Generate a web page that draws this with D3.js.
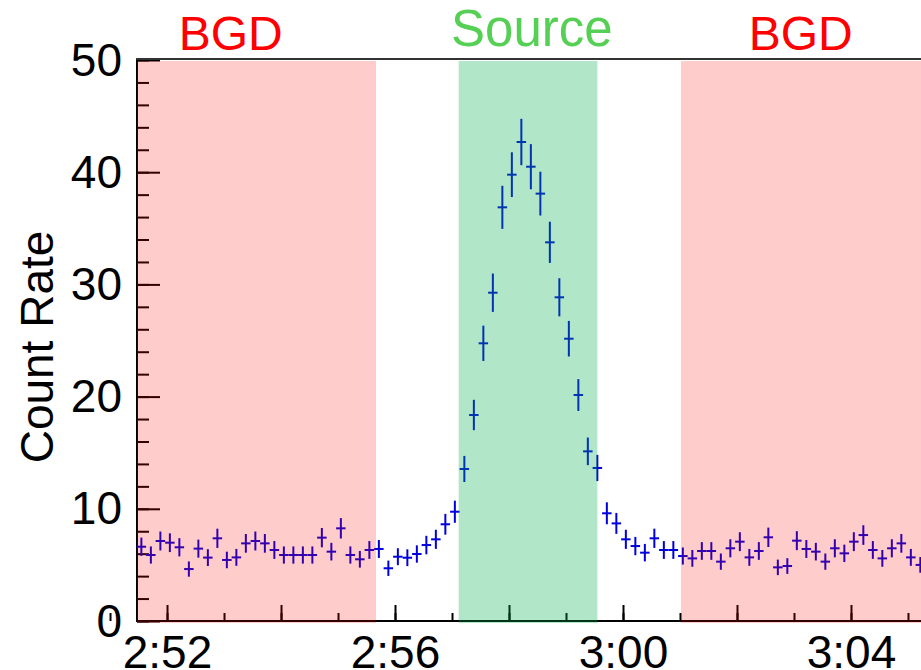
<!DOCTYPE html>
<html>
<head>
<meta charset="utf-8">
<script src="https://cdn.jsdelivr.net/npm/d3@7"></script>
<style>
  body { margin: 0; background: #fff; }
  text { font-family: "Liberation Sans", Arial, Helvetica, sans-serif; }
</style>
</head>
<body>
<svg id="chart" width="921" height="670"></svg>
<script>
// count rate per 10 s bin
const RATES = [
  6.62, 5.88, 7.13, 6.98, 6.57, 4.63, 6.45, 5.65, 7.37, 5.44,
  5.67, 6.92, 7.13, 6.92, 6.33, 5.88, 5.88, 5.88, 5.88, 7.43,
  6.18, 8.26, 5.88, 5.50, 6.33, 6.42, 4.70, 5.73, 5.64, 5.97,
  6.77, 7.28, 8.62, 9.74, 13.55, 18.36, 24.75, 29.26, 36.87, 39.78,
  42.69, 40.49, 38.09, 33.75, 28.85, 25.16, 20.14, 15.12, 13.64, 9.60,
  8.70, 7.28, 6.68, 6.09, 7.37, 6.33, 6.33, 5.79, 5.58, 6.24,
  6.24, 5.29, 6.48, 7.07, 5.67, 6.24, 7.46, 4.78, 4.90, 7.16,
  6.42, 6.18, 5.29, 6.48, 6.03, 7.07, 7.66, 6.33, 5.58, 6.48,
  6.92, 5.67, 5.00
];
const BIN_WIDTH = 10;            // seconds
const FIRST_BIN_START = "2:51:28";
const TIME_RANGE = ["2:51:28.4", "3:05:13.7"];
const Y_RANGE = [0, 50];
const Y_MAJOR = [0, 10, 20, 30, 40, 50];
const X_LABELS = ["2:52", "2:56", "3:00", "3:04"];

const REGIONS = [
  { name: "BGD",    from: "2:51:28.4", to: "2:55:40", label: "2:53:07", fill: "red",     text: "#ff0000" },
  { name: "Source", from: "2:57:07",   to: "2:59:33", label: "2:58:24", fill: "#00ab4b", text: "#55d055" },
  { name: "BGD",    from: "3:01:01",   to: "3:05:13.7", label: "3:03:07", fill: "red",   text: "#ff0000" }
];

const toSec = s => {
  const p = s.split(":").map(Number);
  return p[0] * 3600 + p[1] * 60 + (p[2] || 0);
};
const fmt = t => {
  const h = Math.floor(t / 3600), m = Math.round((t - h * 3600) / 60);
  return h + ":" + String(m).padStart(2, "0");
};

const svg = d3.select("#chart");
const x = d3.scaleLinear().domain(TIME_RANGE.map(toSec)).range([137, 921]);
const y = d3.scaleLinear().domain(Y_RANGE).range([621, 60]);

const t0 = toSec(FIRST_BIN_START);
const points = RATES.map((v, i) => ({
  t: t0 + BIN_WIDTH * (i + 0.5),
  v: v,
  err: Math.sqrt(v / BIN_WIDTH)     // Poisson error on a 10 s bin
}));

// ---- axes ----
const axisG = svg.append("g");

// y: major + minor ticks pointing inward
axisG.append("g")
  .attr("transform", "translate(137,0)")
  .call(d3.axisLeft(y).tickValues(d3.range(0, 50.1, 2)).tickSize(-12).tickFormat(""))
  .call(g => g.select(".domain").remove());
axisG.append("g")
  .attr("class", "y-major")
  .attr("transform", "translate(137,0)")
  .call(d3.axisLeft(y).tickValues(Y_MAJOR).tickSize(-23).tickPadding(15 - 23 + 23))
  .call(g => g.select(".domain").remove());

// x: 1-min and 2-min ticks, labels every 4 min
const xStart = toSec("2:52");
axisG.append("g")
  .attr("transform", "translate(0,621)")
  .call(d3.axisBottom(x).tickValues(d3.range(xStart - 60, x.domain()[1], 60)).tickSize(-8).tickFormat(""))
  .call(g => g.select(".domain").remove());
axisG.append("g")
  .attr("transform", "translate(0,621)")
  .call(d3.axisBottom(x).tickValues(d3.range(xStart, x.domain()[1], 120)).tickSize(-16).tickFormat(""))
  .call(g => g.select(".domain").remove());
axisG.append("g")
  .attr("class", "x-labels")
  .attr("transform", "translate(0,621)")
  .call(d3.axisBottom(x).tickValues(X_LABELS.map(toSec)).tickSize(0).tickFormat(fmt))
  .call(g => g.select(".domain").remove());

axisG.selectAll(".tick line").attr("stroke", "#000").attr("stroke-width", 2);
axisG.selectAll(".y-major text")
  .attr("font-size", 46).attr("fill", "#000")
  .attr("x", -15).attr("dy", "0.33em");
axisG.selectAll(".x-labels text")
  .attr("font-size", 46).attr("fill", "#000")
  .attr("y", 47).attr("dy", 0);

// frame lines
axisG.append("line").attr("x1", 137).attr("x2", 137).attr("y1", 59).attr("y2", 622)
  .attr("stroke", "#000").attr("stroke-width", 2);
axisG.append("line").attr("x1", 136).attr("x2", 921).attr("y1", 621).attr("y2", 621)
  .attr("stroke", "#000").attr("stroke-width", 2);
axisG.append("line").attr("x1", 136).attr("x2", 921).attr("y1", 59).attr("y2", 59)
  .attr("stroke", "#333").attr("stroke-width", 2);

// ---- data points with error bars ----
const pts = svg.append("g").attr("stroke", "#0000dd").attr("stroke-width", 2);
pts.selectAll("line.ey")
  .data(points).enter().append("line")
  .attr("class", "ey")
  .attr("x1", d => x(d.t)).attr("x2", d => x(d.t))
  .attr("y1", d => y(d.v - d.err)).attr("y2", d => y(d.v + d.err));
pts.selectAll("line.ex")
  .data(points).enter().append("line")
  .attr("class", "ex")
  .attr("x1", d => x(d.t - BIN_WIDTH / 2)).attr("x2", d => x(d.t + BIN_WIDTH / 2))
  .attr("y1", d => y(d.v)).attr("y2", d => y(d.v));

// ---- shaded regions on top ----
svg.append("g").selectAll("rect")
  .data(REGIONS).enter().append("rect")
  .attr("x", d => x(toSec(d.from)))
  .attr("width", d => x(toSec(d.to)) - x(toSec(d.from)))
  .attr("y", y(50) + 1)
  .attr("height", y(0) - y(50) + 1)
  .attr("fill", d => d.fill)
  .attr("fill-opacity", d => d.name === "Source" ? 0.3 : 0.2);

// region labels
svg.append("g").selectAll("text")
  .data(REGIONS).enter().append("text")
  .attr("x", d => x(toSec(d.label)))
  .attr("y", d => d.name === "Source" ? 46 : 50)
  .attr("text-anchor", "middle")
  .attr("font-size", d => d.name === "Source" ? 51 : 48)
  .attr("fill", d => d.text)
  .text(d => d.name);

// y title
svg.append("text")
  .attr("transform", "translate(53,347) rotate(-90)")
  .attr("text-anchor", "middle")
  .attr("font-size", 46)
  .attr("fill", "#000")
  .text("Count Rate");
</script>
</body>
</html>
